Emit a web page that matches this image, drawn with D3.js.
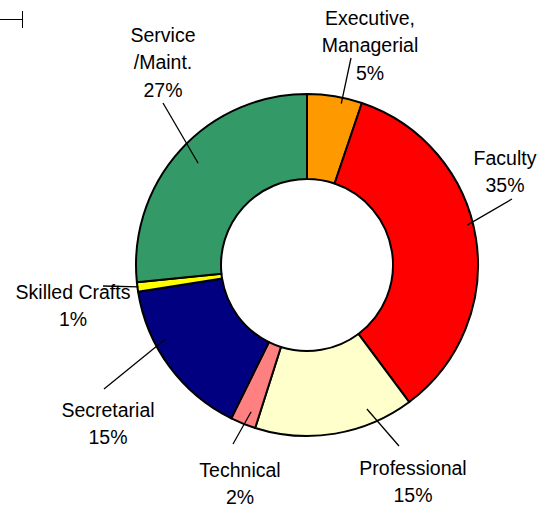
<!DOCTYPE html>
<meta charset="utf-8">
<style>
    body { margin: 0; background: #fff; }
    svg { display: block; }
    .lbl { font: 19.5px "Liberation Sans", Arial, sans-serif; fill: #000; }
</style>
<body>
<script src="https://d3js.org/d3.v7.min.js"></script>
<script>

    // chart data (clockwise from 12 o'clock)
    var categories = ["Executive,\nManagerial", "Faculty", "Professional", "Technical", "Secretarial", "Skilled Crafts", "Service\n/Maint."];
    var shares = [5.2, 34.6, 15.1, 2.4, 15.2, 0.9, 26.6];
    var colors = ["#FF9900", "#FF0000", "#FFFFCC", "#FF8080", "#000080", "#FFFF00", "#339966"];

    var width = 542,
        height = 508,
        cx = 307,
        cy = 265,
        outerR = 171,
        innerR = 86,
        lineH = 27.5;

    // label layout: centre of first text line, leader end near the text,
    // and where the leader touches the slice (fraction of slice span, radius)
    var labelLayout = [
        {x: 370, y: 18,  lx: 351, ly: 58,  t: 0.64, r: 165},
        {x: 505, y: 158, lx: 512, ly: 199, t: 0.46, r: 165},
        {x: 413, y: 468, lx: 399, ly: 446, t: 0.26, r: 156},
        {x: 240, y: 470, lx: 233, ly: 444, t: 0.37, r: 157},
        {x: 108, y: 410, lx: 104, ly: 389, t: 0.66, r: 160},
        {x: 73,  y: 292, lx: 103, ly: 286, t: 0.5,  r: 170},
        {x: 163, y: 35,  lx: 163, ly: 103, t: 0.51, r: 149}
    ];

    var data = categories.map(function(c, i) {
        return {name: c, value: shares[i], color: colors[i]};
    });

    var svg = d3.select("body").append("svg")
        .attr("width", width)
        .attr("height", height);

    // small mark in the top-left corner
    svg.append("path")
        .attr("d", "M0,19.5H22.5M22.5,11V28")
        .attr("fill", "none")
        .attr("stroke", "#000")
        .attr("stroke-width", 1);

    var pie = d3.pie()
        .sort(null)
        .value(function(d) { return d.value; });

    var arc = d3.arc()
        .innerRadius(innerR)
        .outerRadius(outerR);

    var g = svg.append("g")
        .attr("transform", "translate(" + cx + "," + cy + ")");

    var arcs = pie(data);

    g.selectAll("path.slice")
        .data(arcs)
        .enter().append("path")
        .attr("class", "slice")
        .attr("d", arc)
        .attr("fill", function(d) { return d.data.color; })
        .attr("stroke", "#000")
        .attr("stroke-width", 2)
        .attr("stroke-linejoin", "round");

    // leader lines
    svg.selectAll("line.leader")
        .data(arcs)
        .enter().append("line")
        .attr("class", "leader")
        .attr("x1", function(d, i) { return labelLayout[i].lx; })
        .attr("y1", function(d, i) { return labelLayout[i].ly; })
        .attr("x2", function(d, i) {
            var L = labelLayout[i], a = d.startAngle + (d.endAngle - d.startAngle) * L.t;
            return cx + L.r * Math.sin(a);
        })
        .attr("y2", function(d, i) {
            var L = labelLayout[i], a = d.startAngle + (d.endAngle - d.startAngle) * L.t;
            return cy - L.r * Math.cos(a);
        })
        .attr("stroke", "#000")
        .attr("stroke-width", 1.3);

    // labels
    var labels = svg.selectAll("text.lbl")
        .data(data)
        .enter().append("text")
        .attr("class", "lbl")
        .attr("text-anchor", "middle");

    labels.each(function(d, i) {
        var lines = d.name.split("\n").concat([Math.round(d.value) + "%"]);
        var L = labelLayout[i];
        d3.select(this).selectAll("tspan")
            .data(lines)
            .enter().append("tspan")
            .attr("x", L.x)
            .attr("y", function(s, j) { return L.y + j * lineH; })
            .attr("dy", "0.35em")
            .text(function(s) { return s; });
    });

</script>
